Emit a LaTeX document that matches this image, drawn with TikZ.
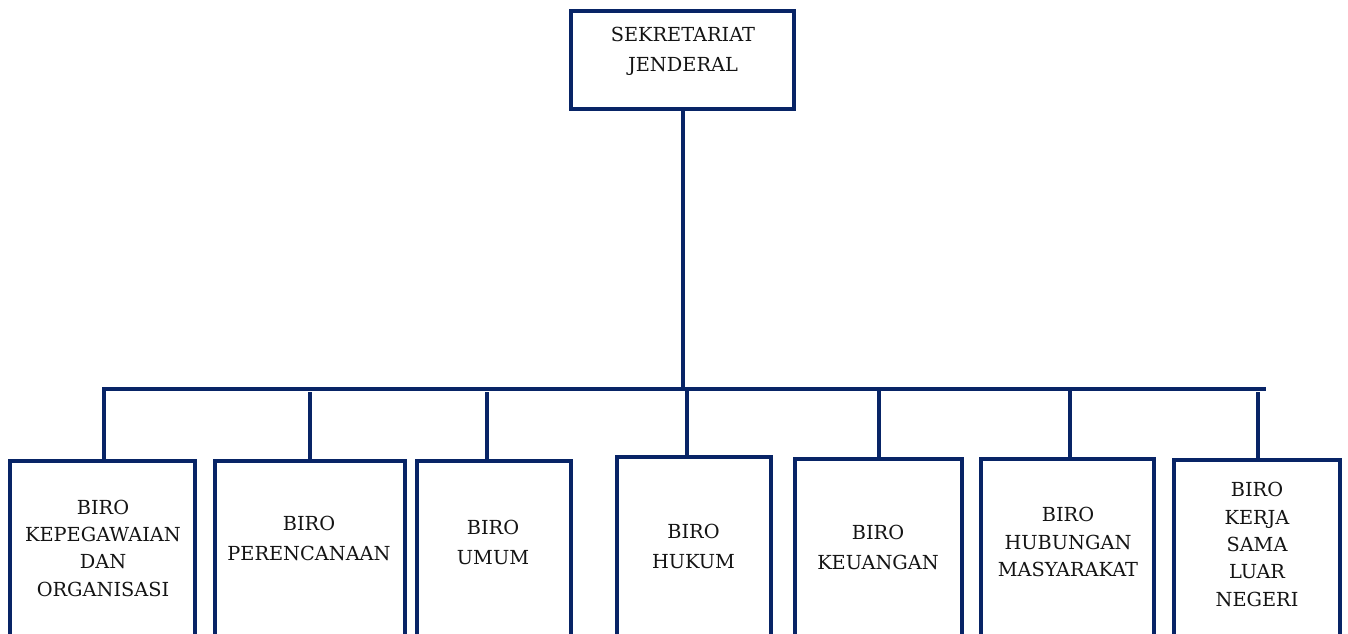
\documentclass[tikz,border=0pt]{standalone}
\usepackage{fontspec}
\setmainfont{DejaVu Serif}
\definecolor{navy}{RGB}{8,36,102}
\definecolor{ink}{RGB}{20,20,20}
\begin{document}
\begin{tikzpicture}[x=0.75pt,y=-0.75pt,
  box/.style={draw=navy,line width=3pt,fill=white,inner sep=0pt,rectangle},
  conn/.style={draw=navy,line width=3pt},
  lbl/.style={align=center,text=ink,inner sep=0pt,font=\fontsize{14.5}{20.5}\selectfont},
  lbltwo/.style={align=center,text=ink,inner sep=0pt,font=\fontsize{14.5}{22.5}\selectfont}]
\useasboundingbox (0,0) rectangle (1348,633);
\clip (0,0) rectangle (1348,633);
\fill[white] (0,0) rectangle (1348,633);
% top box
\node[box,minimum width={223*0.75pt},minimum height={98*0.75pt}] (top) at (682.5,60) {};
\node[lbltwo] (ttop) at (683,51) {SEKRETARIAT\\JENDERAL};
% child boxes
\node[box,minimum width={185*0.75pt},minimum height={189*0.75pt}] (b1) at (102.5,555.5) {};
\node[box,minimum width={190*0.75pt},minimum height={189*0.75pt}] (b2) at (310,555.5) {};
\node[box,minimum width={154*0.75pt},minimum height={189*0.75pt}] (b3) at (494,555.5) {};
\node[box,minimum width={154*0.75pt},minimum height={193*0.75pt}] (b4) at (694,553.5) {};
\node[box,minimum width={167*0.75pt},minimum height={191*0.75pt}] (b5) at (878.5,554.5) {};
\node[box,minimum width={173*0.75pt},minimum height={191*0.75pt}] (b6) at (1067.5,554.5) {};
\node[box,minimum width={166*0.75pt},minimum height={190*0.75pt}] (b7) at (1257,555) {};
% labels
\node[lbl] (t1) at (103,548) {BIRO\\KEPEGAWAIAN\\DAN\\ORGANISASI};
\node[lbltwo] (t2) at (309,538.5) {BIRO\\PERENCANAAN};
\node[lbltwo] (t3) at (493,542) {BIRO\\UMUM};
\node[lbltwo] (t4) at (693.5,546.5) {BIRO\\HUKUM};
\node[lbltwo] (t5) at (878,547.5) {BIRO\\KEUANGAN};
\node[lbl] (t6) at (1068,542) {BIRO\\HUBUNGAN\\MASYARAKAT};
\node[lbl] (t7) at (1257,544.5) {BIRO\\KERJA\\SAMA\\LUAR\\NEGERI};
% bus
\coordinate (busL) at (102,389);
\coordinate (busR) at (1266,389);
\coordinate (mainx) at (683,0);
\draw[conn] (busL) -- (busR);
\draw[conn] (top.south -| mainx) -- (mainx |- busL);
% drops
\coordinate (d1) at ([xshift=0.75pt]b1.north);
\coordinate (d2) at (b2.north);
\coordinate (d3) at ([xshift=-5.25pt]b3.north);
\coordinate (d4) at ([xshift=-5.25pt]b4.north);
\coordinate (d5) at (b5.north);
\coordinate (d6) at ([xshift=1.9pt]b6.north);
\coordinate (d7) at ([xshift=0.75pt]b7.north);
\draw[conn] (d1) -- (d1 |- busL);
\draw[conn] (d2) -- ([yshift=-2.25pt]d2 |- busL);
\draw[conn] (d3) -- ([yshift=-2.25pt]d3 |- busL);
\draw[conn] (d4) -- (d4 |- busL);
\draw[conn] (d5) -- (d5 |- busL);
\draw[conn] (d6) -- (d6 |- busL);
\draw[conn] (d7) -- ([yshift=-2.25pt]d7 |- busL);
\end{tikzpicture}
\end{document}
